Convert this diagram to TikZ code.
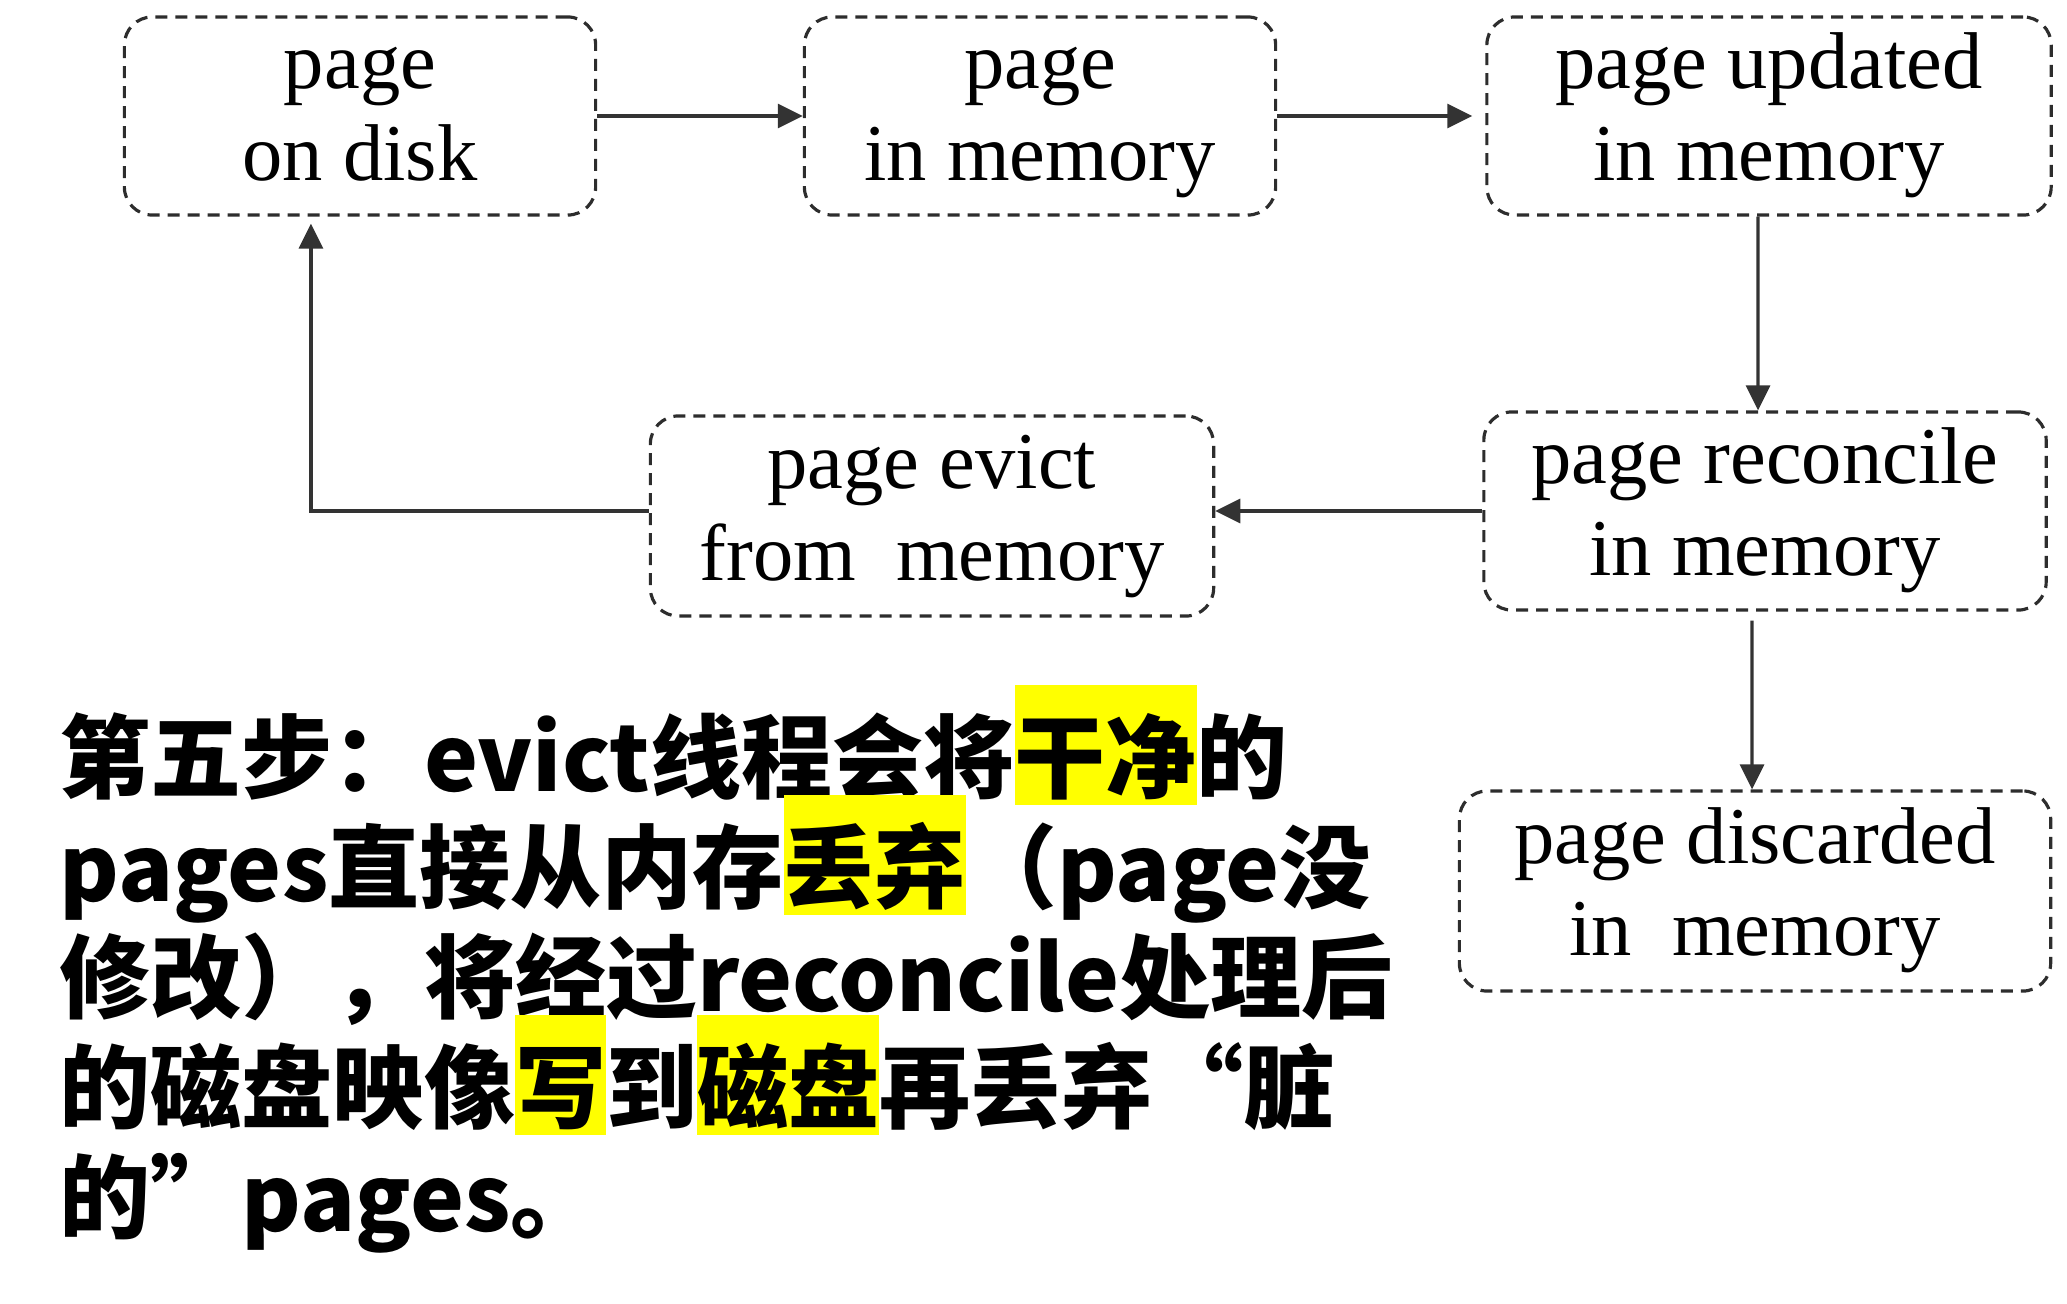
\documentclass[tikz,border=0pt]{standalone}
\usepackage{fontspec}
\setmainfont{Liberation Serif}
\newfontfamily\cjk{Noto Sans CJK SC}
\usetikzlibrary{arrows.meta}

\definecolor{hlyellow}{RGB}{255,255,0}
\definecolor{boxgray}{RGB}{45,45,45}
\setlength{\fboxsep}{0pt}
\newcommand{\hlmark}[1]{\smash{\colorbox{hlyellow}{\rule[-0.15em]{0pt}{1.31em}#1}}}

\begin{document}
\begin{tikzpicture}[x=0.01cm, y=-0.01cm,
    pagebox/.style={draw=boxgray, line width=0.9pt, dash pattern=on 0.12cm off 0.08cm,
        rounded corners=0.28cm, minimum height=1.98cm, align=center, inner sep=0pt,
        font=\fontsize{22.9pt}{26.2pt}\selectfont},
    flow/.style={draw=black!80, line width=0.95pt, -{Triangle[length=0.25cm,width=0.24cm]}},
    steptext/.style={anchor=base west, inner sep=0pt,
        font=\cjk\bfseries\fontsize{25.9pt}{31pt}\selectfont}]
    \useasboundingbox (0,0) rectangle (2067,1303);

    % Page states
    \node[pagebox, minimum width=4.71cm] (disk) at (360,116) {\strut page\\\strut on disk};
    \node[pagebox, minimum width=4.71cm] (mem) at (1040,116) {\strut page\\\strut in memory};
    \node[pagebox, minimum width=5.64cm] (updated) at (1769,116) {\strut page updated\\\strut in memory};
    \node[pagebox, minimum width=5.62cm] (reconcile) at (1765,511) {\strut page reconcile\\\strut in memory};
    \node[pagebox, minimum width=5.63cm, minimum height=2cm] (evict) at (932,516) {\strut page evict\\\strut from\ \ memory};
    \node[pagebox, minimum width=5.91cm, minimum height=2cm] (discarded) at (1755,891) {\strut page discarded\\\strut in\ \ memory};

    % Transitions
    \draw[flow] (disk) -- (mem);
    \draw[flow, shorten >=0.13cm] (mem) -- (updated);
    \draw[flow] ([xshift=-0.11cm]updated.south) -- ([xshift=-0.07cm]reconcile.north);
    \draw[flow] (reconcile.west) -- (reconcile.west -| evict.east);
    \draw[flow, shorten >=0.07cm] (evict.west |- reconcile.west) -| ([xshift=-0.49cm]disk.south);
    \draw[flow, shorten <=0.09cm] ([xshift=-0.13cm]reconcile.south) -- ([xshift=-0.03cm]discarded.north);

    % Step description
    \node[steptext] (line1) at (59,791) {第五步：evict线程会将\hlmark{干净}的};
    \node[steptext] (line2) at (59,901) {pages直接从内存\hlmark{丢弃}（page没};
    \node[steptext] (line3) at (59,1011) {修改），将经过reconcile处理后};
    \node[steptext] (line4) at (59,1121) {的磁盘映像\hlmark{写}到\hlmark{磁盘}再丢弃“脏};
    \node[steptext] (line5) at (59,1231) {的”pages。};
\end{tikzpicture}
\end{document}
